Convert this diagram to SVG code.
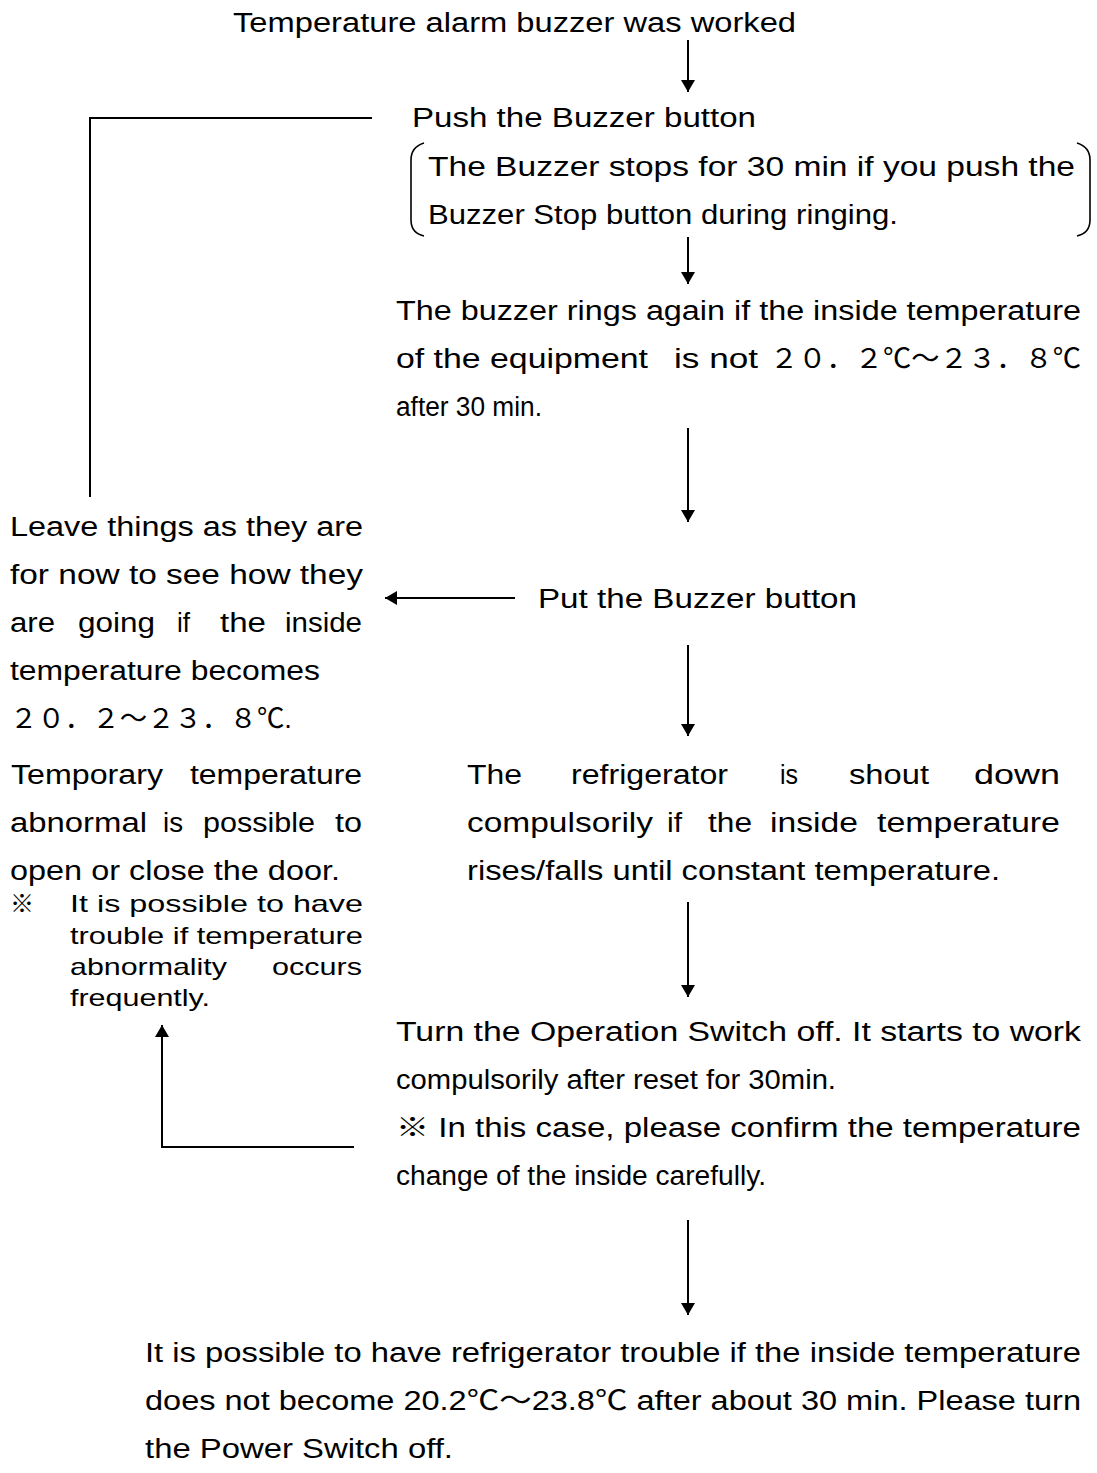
<svg xmlns="http://www.w3.org/2000/svg" width="1097" height="1473" viewBox="0 0 1097 1473">
<style>
text{font-family:"Liberation Sans","Noto Sans CJK JP",sans-serif;font-size:27px;fill:#000}
.s{font-size:24px}
.ln{fill:none;stroke:#000;stroke-width:2}
.br{fill:none;stroke:#000;stroke-width:1.6}
</style>
<defs>
<marker id="ah" viewBox="0 0 12 14" refX="12" refY="7" markerWidth="12" markerHeight="14" markerUnits="userSpaceOnUse" orient="auto">
<path d="M0,0 L12,7 L0,14 Z" fill="#000"/>
</marker>
</defs>
<rect width="1097" height="1473" fill="#fff"/>
<g id="connectors">
<line class="ln" x1="688" y1="40" x2="688" y2="92" marker-end="url(#ah)"/>
<line class="ln" x1="688" y1="237" x2="688" y2="284" marker-end="url(#ah)"/>
<line class="ln" x1="688" y1="428" x2="688" y2="522" marker-end="url(#ah)"/>
<line class="ln" x1="688" y1="645" x2="688" y2="736" marker-end="url(#ah)"/>
<line class="ln" x1="688" y1="902" x2="688" y2="997" marker-end="url(#ah)"/>
<line class="ln" x1="688" y1="1220" x2="688" y2="1315" marker-end="url(#ah)"/>
<line class="ln" x1="515" y1="598" x2="385" y2="598" marker-end="url(#ah)"/>
<polyline class="ln" points="372,118 90,118 90,497"/>
<polyline class="ln" points="354,1147 162,1147 162,1025" marker-end="url(#ah)"/>
</g>
<g id="n-start">
<text x="233" y="32" textLength="563" lengthAdjust="spacingAndGlyphs">Temperature alarm buzzer was worked</text>
</g>
<g id="n-push">
<text x="412" y="127" textLength="344" lengthAdjust="spacingAndGlyphs">Push the Buzzer button</text>
<path class="br" d="M424,143 Q411,147 411,160 L411,220 Q411,233 424,236"/>
<path class="br" d="M1077,143 Q1090,147 1090,160 L1090,220 Q1090,233 1077,236"/>
<text x="428" y="176" textLength="647" lengthAdjust="spacingAndGlyphs">The Buzzer stops for 30 min if you push the</text>
<text x="428" y="224" textLength="470" lengthAdjust="spacingAndGlyphs">Buzzer Stop button during ringing.</text>
</g>
<g id="n-rings">
<text x="396" y="320" textLength="685" lengthAdjust="spacingAndGlyphs">The buzzer rings again if the inside temperature</text>
<text x="396" y="368" textLength="252" lengthAdjust="spacingAndGlyphs">of the equipment</text>
<text x="674" y="368" textLength="84" lengthAdjust="spacingAndGlyphs">is not</text>
<text x="770" y="368" textLength="311" lengthAdjust="spacingAndGlyphs">２０．２℃～２３．８℃</text>
<text x="396" y="416" textLength="146" lengthAdjust="spacingAndGlyphs">after 30 min.</text>
</g>
<g id="n-put">
<text x="538" y="608" textLength="319" lengthAdjust="spacingAndGlyphs">Put the Buzzer button</text>
</g>
<g id="n-leave">
<text x="10" y="536" textLength="353" lengthAdjust="spacingAndGlyphs">Leave things as they are</text>
<text x="10" y="584" textLength="353" lengthAdjust="spacingAndGlyphs">for now to see how they</text>
<text x="10" y="632" textLength="45" lengthAdjust="spacingAndGlyphs">are</text>
<text x="78" y="632" textLength="77" lengthAdjust="spacingAndGlyphs">going</text>
<text x="177" y="632" textLength="13" lengthAdjust="spacingAndGlyphs">if</text>
<text x="220" y="632" textLength="46" lengthAdjust="spacingAndGlyphs">the</text>
<text x="285" y="632" textLength="77" lengthAdjust="spacingAndGlyphs">inside</text>
<text x="10" y="680" textLength="310" lengthAdjust="spacingAndGlyphs">temperature becomes</text>
<text x="10" y="728" textLength="282" lengthAdjust="spacingAndGlyphs">２０．２～２３．８℃.</text>
<text x="11" y="784" textLength="152" lengthAdjust="spacingAndGlyphs">Temporary</text>
<text x="190" y="784" textLength="172" lengthAdjust="spacingAndGlyphs">temperature</text>
<text x="10" y="832" textLength="137" lengthAdjust="spacingAndGlyphs">abnormal</text>
<text x="163" y="832" textLength="20" lengthAdjust="spacingAndGlyphs">is</text>
<text x="203" y="832" textLength="112" lengthAdjust="spacingAndGlyphs">possible</text>
<text x="335" y="832" textLength="27" lengthAdjust="spacingAndGlyphs">to</text>
<text x="10" y="880" textLength="330" lengthAdjust="spacingAndGlyphs">open or close the door.</text>
<text class="s" x="10" y="912">※</text>
<text class="s" x="70" y="912" textLength="293" lengthAdjust="spacingAndGlyphs">It is possible to have</text>
<text class="s" x="70" y="944" textLength="293" lengthAdjust="spacingAndGlyphs">trouble if temperature</text>
<text class="s" x="70" y="975" textLength="157" lengthAdjust="spacingAndGlyphs">abnormality</text>
<text class="s" x="272" y="975" textLength="90" lengthAdjust="spacingAndGlyphs">occurs</text>
<text class="s" x="70" y="1006" textLength="140" lengthAdjust="spacingAndGlyphs">frequently.</text>
</g>
<g id="n-shut">
<text x="467" y="784" textLength="55" lengthAdjust="spacingAndGlyphs">The</text>
<text x="571" y="784" textLength="157" lengthAdjust="spacingAndGlyphs">refrigerator</text>
<text x="780" y="784" textLength="18" lengthAdjust="spacingAndGlyphs">is</text>
<text x="849" y="784" textLength="80" lengthAdjust="spacingAndGlyphs">shout</text>
<text x="974" y="784" textLength="86" lengthAdjust="spacingAndGlyphs">down</text>
<text x="467" y="832" textLength="186" lengthAdjust="spacingAndGlyphs">compulsorily</text>
<text x="667" y="832" textLength="15" lengthAdjust="spacingAndGlyphs">if</text>
<text x="708" y="832" textLength="44" lengthAdjust="spacingAndGlyphs">the</text>
<text x="770" y="832" textLength="88" lengthAdjust="spacingAndGlyphs">inside</text>
<text x="877" y="832" textLength="183" lengthAdjust="spacingAndGlyphs">temperature</text>
<text x="467" y="880" textLength="533" lengthAdjust="spacingAndGlyphs">rises/falls until constant temperature.</text>
</g>
<g id="n-turn">
<text x="396" y="1041" textLength="685" lengthAdjust="spacingAndGlyphs">Turn the Operation Switch off. It starts to work</text>
<text x="396" y="1089" textLength="440" lengthAdjust="spacingAndGlyphs">compulsorily after reset for 30min.</text>
<text x="396" y="1137" textLength="685" lengthAdjust="spacingAndGlyphs">※ In this case, please confirm the temperature</text>
<text x="396" y="1185" textLength="370" lengthAdjust="spacingAndGlyphs">change of the inside carefully.</text>
</g>
<g id="n-end">
<text x="145" y="1362" textLength="936" lengthAdjust="spacingAndGlyphs">It is possible to have refrigerator trouble if the inside temperature</text>
<text x="145" y="1410" textLength="936" lengthAdjust="spacingAndGlyphs">does not become 20.2℃～23.8℃ after about 30 min. Please turn</text>
<text x="145" y="1458" textLength="308" lengthAdjust="spacingAndGlyphs">the Power Switch off.</text>
</g>
</svg>
